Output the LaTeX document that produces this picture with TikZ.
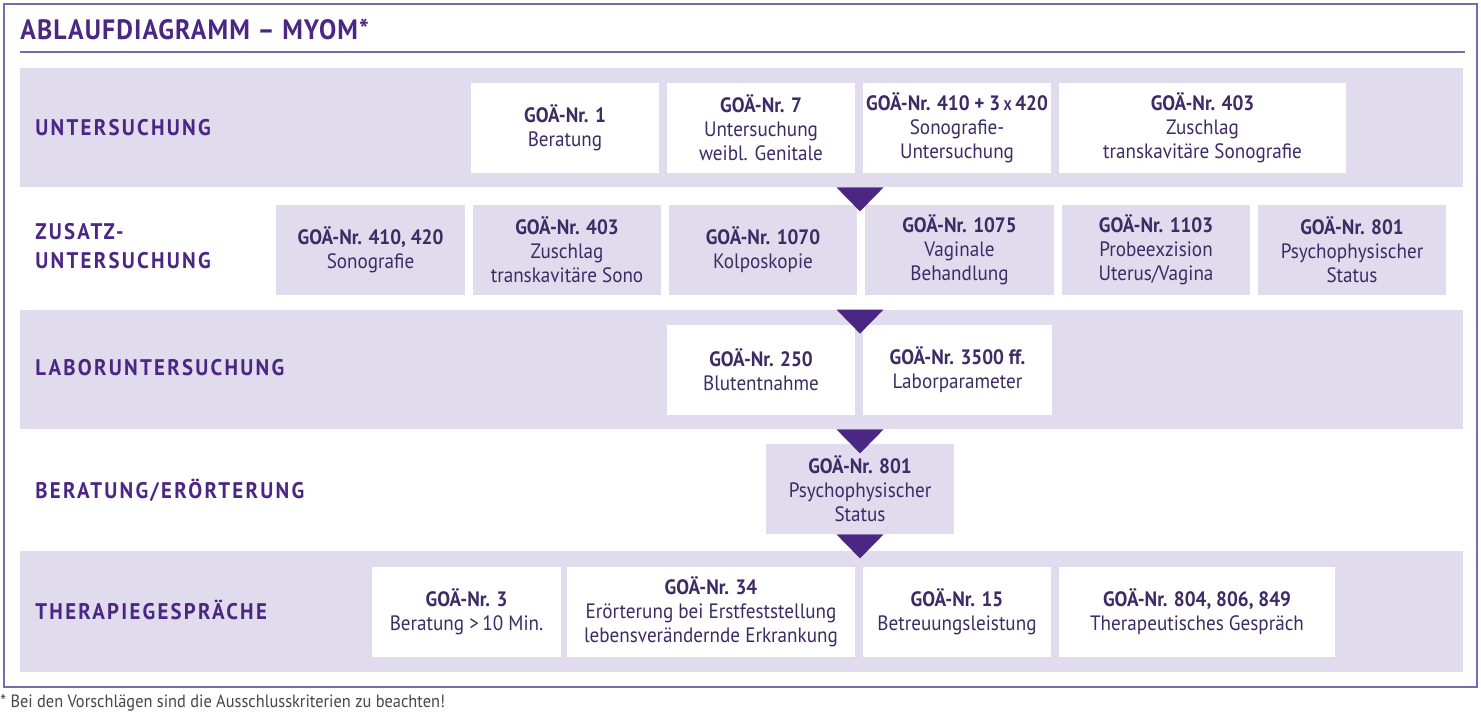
\documentclass[tikz,border=0pt]{standalone}
\usepackage{fontspec}
\setmainfont{PT Sans}[FakeStretch=0.92]
\usetikzlibrary{positioning}
\definecolor{MyomPurple}{RGB}{76, 38, 131}
\definecolor{MyomText}{RGB}{62, 42, 100}
\definecolor{MyomLilac}{RGB}{224, 219, 237}
\definecolor{MyomFrame}{RGB}{125, 105, 165}
\definecolor{NoteGray}{RGB}{70, 70, 70}

\begin{document}
\begin{tikzpicture}[x=0.5pt, y=-0.5pt,
      every node/.style={inner sep=0pt, align=center, text=MyomText, font=\fontsize{10.4}{12}\selectfont},
      band/.style={rectangle, fill=MyomLilac, minimum width=721.5pt, minimum height=#1},
      rowlabel/.style={anchor=west, align=left, text=MyomPurple, font=\fontsize{11.3}{14.5}\selectfont\bfseries\addfontfeature{LetterSpace=10}},
      gobox/.style={rectangle, fill=white, minimum width=#1, minimum height=45pt},
      golilac/.style={gobox=#1, fill=MyomLilac},
      flowhead/.pic={\fill[MyomPurple] (-23.5,0) -- (23.5,0) -- (0,24) -- cycle;}
    ]
      \useasboundingbox (0,0) rectangle (1481,719);
      \draw[MyomFrame, line width=0.6pt] (4,4) rectangle (1477,687);

      % Title
      \node[anchor=west, text=MyomPurple, font=\fontsize{14}{16}\selectfont\bfseries\addfontfeature{LetterSpace=4}] (title) at (20,29) {ABLAUFDIAGRAMM – MYOM*};
      \draw[MyomFrame, line width=0.6pt] (20,52) -- (1465,52);

      % Bands
      \node[band=59.5pt] (band1) at (741.5,127.5) {};
      \node[band=59.5pt] (band3) at (741.5,369.5) {};
      \node[band=60.5pt] (band5) at (741.5,611.5) {};
      \coordinate (flow) at (860,0);

      % Row labels
      \node[rowlabel] (lab1) at (35,127.5) {UNTERSUCHUNG};
      \node[rowlabel] (lab2) at (35,246.5) {ZUSATZ-\\UNTERSUCHUNG};
      \node[rowlabel] (lab3) at (35,368) {LABORUNTERSUCHUNG};
      \node[rowlabel] (lab4) at (35,490) {BERATUNG/ERÖRTERUNG};
      \node[rowlabel] (lab5) at (35,610) {THERAPIEGESPRÄCHE};

      % Row 1
      \node[gobox=94pt] (u1) at (565,128) {\textbf{GOÄ-Nr. 1}\\Beratung};
      \node[gobox=94pt] (u2) at (761,128) {\textbf{GOÄ-Nr. 7}\\Untersuchung\\weibl. Genitale};
      \node[gobox=94pt] (u3) at (957,128) {\textbf{GOÄ-Nr. 410 + 3\,{\scriptsize X}\,420}\\Sonografie-\\Untersuchung};
      \node[gobox=143.5pt] (u4) at (1202.5,128) {\textbf{GOÄ-Nr. 403}\\Zuschlag\\transkavitäre Sonografie};

      % Row 2
      \node[golilac=94.5pt] (z1) at (370.5,250) {\textbf{GOÄ-Nr. 410, 420}\\Sonografie};
      \node[golilac=94pt] (z2) at (567,250) {\textbf{GOÄ-Nr. 403}\\Zuschlag\\transkavitäre Sono};
      \node[golilac=94pt] (z3) at (763,250) {\textbf{GOÄ-Nr. 1070}\\Kolposkopie};
      \node[golilac=94.5pt] (z4) at (959.5,250) {\textbf{GOÄ-Nr. 1075}\\Vaginale\\Behandlung};
      \node[golilac=94pt] (z5) at (1156,250) {\textbf{GOÄ-Nr. 1103}\\Probeexzision\\Uterus/Vagina};
      \node[golilac=94pt] (z6) at (1352,250) {\textbf{GOÄ-Nr. 801}\\Psychophysischer\\Status};

      % Row 3
      \node[gobox=94pt] (l1) at (761,369.5) {\textbf{GOÄ-Nr. 250}\\Blutentnahme};
      \node[gobox=94.5pt] (l2) at (957.5,369.5) {\textbf{GOÄ-Nr. 3500 ff.}\\Laborparameter};

      % Row 4
      \node[golilac=94pt] (b1) at (860,489) {\textbf{GOÄ-Nr. 801}\\Psychophysischer\\Status};

      % Row 5
      \node[gobox=94.5pt] (t1) at (466.5,612) {\textbf{GOÄ-Nr. 3}\\Beratung >\,10 Min.};
      \node[gobox=144pt] (t2) at (711,612) {\textbf{GOÄ-Nr. 34}\\Erörterung bei Erstfeststellung\\lebensverändernde Erkrankung};
      \node[gobox=94pt] (t3) at (957,612) {\textbf{GOÄ-Nr. 15}\\Betreuungsleistung};
      \node[gobox=138pt] (t4) at (1197,612) {\textbf{GOÄ-Nr. 804, 806, 849}\\Therapeutisches Gespräch};

      % Flow arrows
      \pic at (band1.south -| flow) {flowhead};
      \pic at (band3.north -| flow) {flowhead};
      \pic at (band3.south -| flow) {flowhead};
      \pic at (b1.south) {flowhead};

      % Footnote
      \node[anchor=west, text=NoteGray, font=\fontsize{8.9}{10}\selectfont] (note) at (0,703) {* Bei den Vorschlägen sind die Ausschlusskriterien zu beachten!};
    \end{tikzpicture}
\end{document}
